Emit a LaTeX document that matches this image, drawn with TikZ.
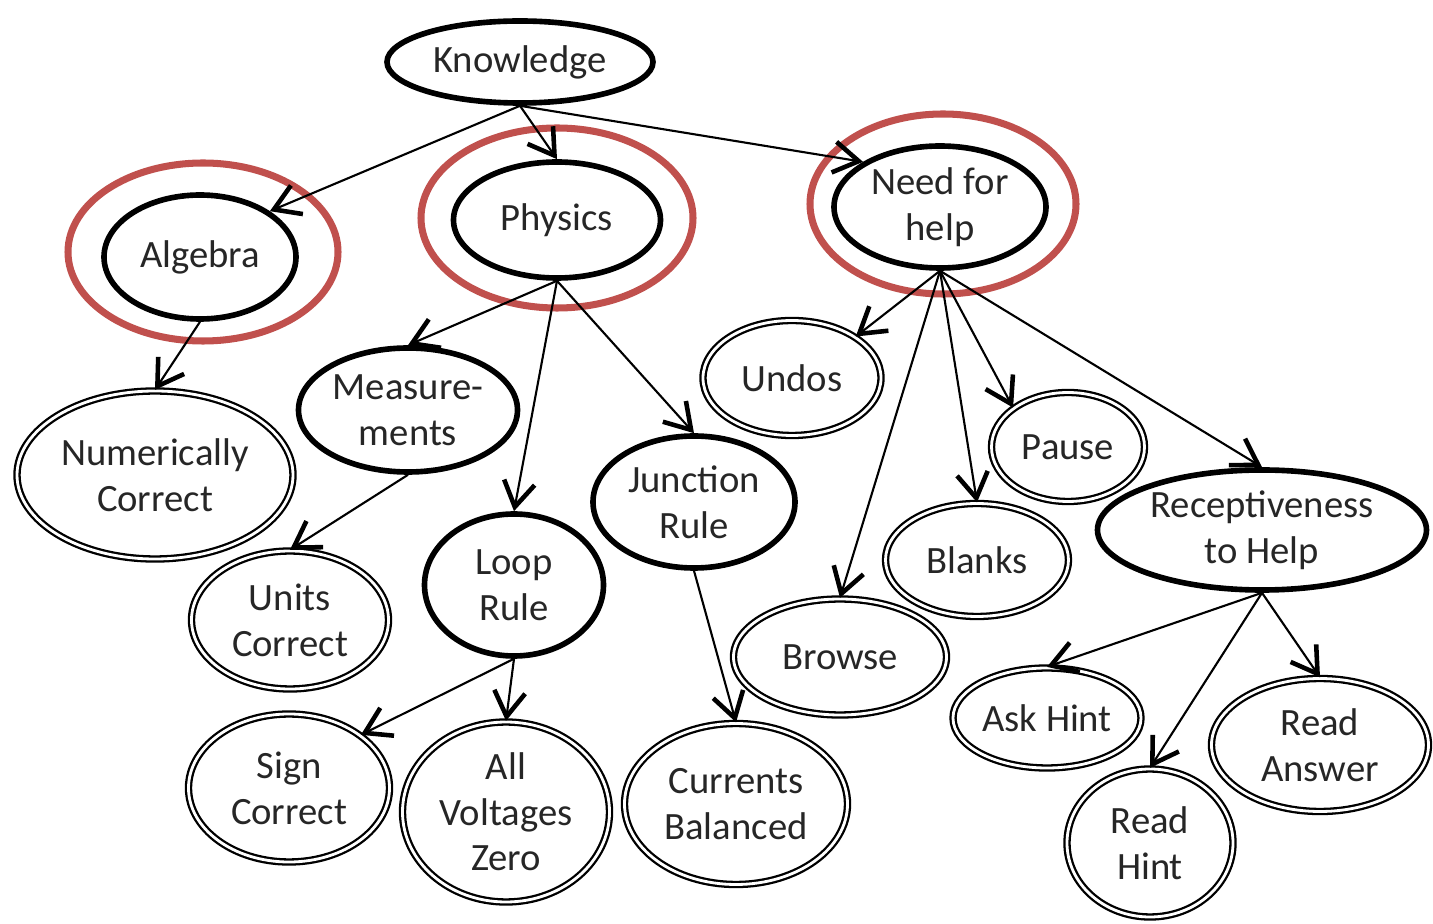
\documentclass[tikz,border=0pt]{standalone}
\usepackage{fontspec}
\setmainfont{Carlito}
\usetikzlibrary{shapes.geometric,arrows.meta}
\definecolor{ringred}{RGB}{192,80,77}
\tikzset{
  latent/.style={ellipse,draw,line width=3.2pt,inner sep=0pt,align=center,text=black!85,font=\fontsize{22}{26}\selectfont},
  observed/.style={ellipse,draw,double,line width=1.3pt,double distance=1.6pt,inner sep=0pt,align=center,text=black!85,font=\fontsize{22}{26}\selectfont},
  ring/.style={draw=ringred,line width=4pt},
  dep/.style={line width=1.2pt,-{Straight Barb[length=5mm,width=6.2mm,line width=2.6pt]}}
}
\begin{document}
\begin{tikzpicture}[x=0.2mm,y=-0.2mm]
  \useasboundingbox (0,0) rectangle (1433,924);
  \draw[ring] (203,252) ellipse (27mm and 17.8mm);
  \draw[ring] (557,218) ellipse (27.2mm and 18mm);
  \draw[ring] (943,204) ellipse (26.6mm and 18mm);

  \node[latent,minimum width=53.2mm,minimum height=16.4mm] (know) at (520,62) {Knowledge};
  \node[latent,minimum width=38.4mm,minimum height=24.8mm] (alg) at (200,257) {Algebra};
  \node[latent,minimum width=41.4mm,minimum height=23.2mm] (phy) at (557,220) {Physics};
  \node[latent,minimum width=42.4mm,minimum height=24.4mm] (need) at (940,207) {Need for\\help};
  \node[observed,minimum width=55.2mm,minimum height=33.6mm] (num) at (155,475) {Numerically\\Correct};
  \node[latent,minimum width=43.8mm,minimum height=24.8mm] (meas) at (408,410) {Measure-\\ments};
  \node[observed,minimum width=39.4mm,minimum height=27.6mm] (units) at (290,620) {Units\\Correct};
  \node[latent,minimum width=35.8mm,minimum height=28.4mm] (loop) at (514,585) {Loop\\Rule};
  \node[latent,minimum width=40.4mm,minimum height=26.4mm] (junc) at (694,502) {Junction\\Rule};
  \node[observed,minimum width=35.6mm,minimum height=23mm] (undos) at (792,378) {Undos};
  \node[observed,minimum width=30.6mm,minimum height=21.8mm] (pause) at (1068,447) {Pause};
  \node[observed,minimum width=36.6mm,minimum height=22.6mm] (blanks) at (977,560) {Blanks};
  \node[latent,minimum width=65.8mm,minimum height=24mm] (recep) at (1262,530) {Receptiveness\\to Help};
  \node[observed,minimum width=42.6mm,minimum height=23.2mm] (brw) at (840,657) {Browse};
  \node[observed,minimum width=37.6mm,minimum height=20mm] (ask) at (1047,718) {Ask Hint};
  \node[observed,minimum width=43.4mm,minimum height=26.6mm] (rans) at (1320,745) {Read\\Answer};
  \node[observed,minimum width=33.2mm,minimum height=29.6mm] (rhint) at (1150,843) {Read\\Hint};
  \node[observed,minimum width=40.2mm,minimum height=29.6mm] (sign) at (289,788) {Sign\\Correct};
  \node[observed,minimum width=41.4mm,minimum height=36mm] (allv) at (506,812) {All\\Voltages\\Zero};
  \node[observed,minimum width=44.6mm,minimum height=32.2mm] (curr) at (736,804) {Currents\\Balanced};

  \foreach \a/\b in {know.south/alg.north east, know.south/phy.north, know.south/need.north west,
      alg.south/num.north, phy.south/meas.north, phy.south/loop.north, phy.south/junc.north,
      meas.south/units.north, loop.south/sign.north east, loop.south/allv.north, junc.south/curr.north,
      need.south/undos.north east, need.south/brw.north, need.south/blanks.north,
      need.south/pause.north west, need.south/recep.north,
      recep.south/ask.north, recep.south/rhint.north, recep.south/rans.north}
    \draw[dep] (\a) -- (\b);
\end{tikzpicture}
\end{document}
